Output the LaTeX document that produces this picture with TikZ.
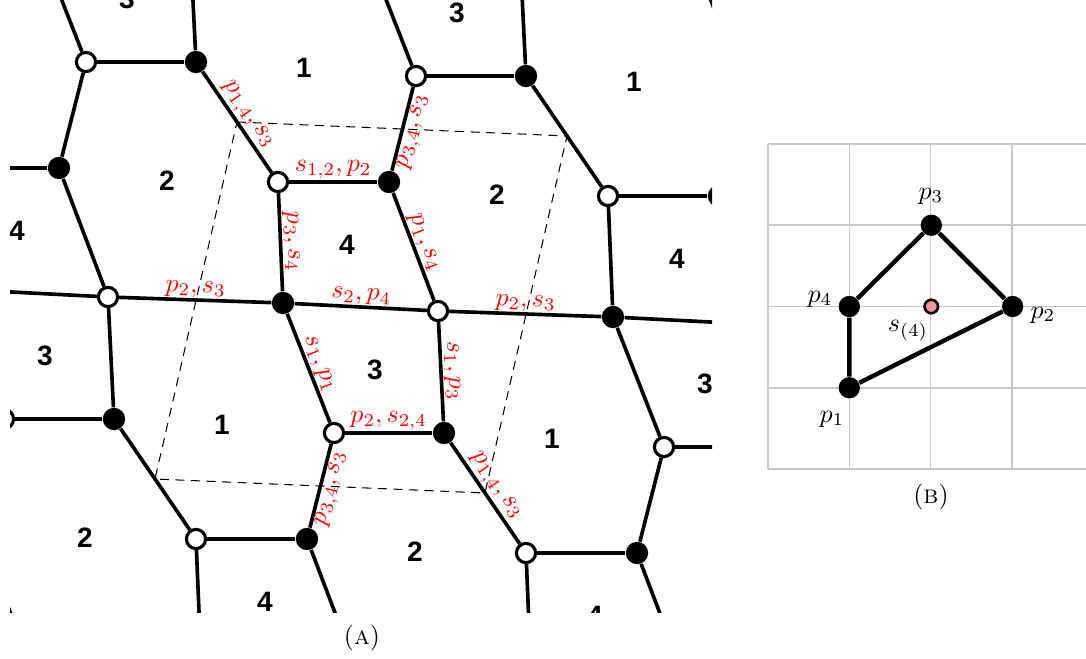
\documentclass[tikz,border=0pt]{standalone}
\usepackage{fontspec}
\newfontfamily\facefont{Liberation Sans}
\usetikzlibrary{calc}
\definecolor{gridgray}{RGB}{200,200,200}
\definecolor{pinkdot}{RGB}{242,150,150}
\tikzset{
  bond/.style={line width=1.4pt},
  wn/.style={circle, draw=black, fill=white, line width=1.2pt, minimum size=7.4pt, inner sep=0pt},
  bn/.style={circle, fill=black, minimum size=8.6pt, inner sep=0pt},
  lab/.style={text=red, inner sep=0.8pt, font=\normalsize},
  facelab/.style={font=\facefont\bfseries\fontsize{10.8}{12}\selectfont},
  fund/.style={line width=0.4pt, dash pattern=on 3.5pt off 2.5pt},
  gridl/.style={draw=gridgray, line width=0.6pt},
  pdot/.style={circle, fill=black, minimum size=8.2pt, inner sep=0pt},
  sdot/.style={circle, draw=black, fill=pinkdot, line width=1pt, minimum size=5.2pt, inner sep=0pt},
  poly/.style={line width=1.7pt},
  plab/.style={font=\normalsize},
  captext/.style={font=\normalsize}
}
\begin{document}
\begin{tikzpicture}[x=0.385pt,y=-0.385pt]
\useasboundingbox (0,0) rectangle (1086,659);
% ---------------- (A) ----------------
\begin{scope}
\clip (10,0) rectangle (712,612);
\foreach \i in {0,...,5}{
  \foreach \j in {0,...,5}{
    \pgfmathsetmacro\ox{330*(\i-2)-82*(\j-2)}
    \pgfmathsetmacro\oy{14*(\i-2)+357*(\j-2)}
    \node[wn] (wa\i\j) at ({278+\ox},{182+\oy}) {};
    \node[bn] (ba\i\j) at ({389+\ox},{182+\oy}) {};
    \node[bn] (bb\i\j) at ({283+\ox},{303+\oy}) {};
    \node[wn] (wb\i\j) at ({438+\ox},{311+\oy}) {};
    \node[wn] (wc\i\j) at ({334+\ox},{433+\oy}) {};
    \node[bn] (bc\i\j) at ({444+\ox},{433+\oy}) {};
    \node[facelab] (fa\i\j) at ({222+\ox},{425+\oy}) {1};
    \node[facelab] (fb\i\j) at ({167+\ox},{181+\oy}) {2};
    \node[facelab] (fc\i\j) at ({375+\ox},{370+\oy}) {3};
    \node[facelab] (fd\i\j) at ({347+\ox},{245+\oy}) {4};
  }
}
\foreach \i in {0,...,4}{
  \foreach \j in {0,...,4}{
    \pgfmathtruncatemacro\ip{\i+1}
    \pgfmathtruncatemacro\jp{\j+1}
    \draw[bond] (wa\i\j) -- (ba\i\j);
    \draw[bond] (wa\i\j) -- (bb\i\j);
    \draw[bond] (ba\i\j) -- (wb\i\j);
    \draw[bond] (bb\i\j) -- (wb\i\j);
    \draw[bond] (wb\i\j) -- (bb\ip\j);
    \draw[bond] (bb\i\j) -- (wc\i\j);
    \draw[bond] (wb\i\j) -- (bc\i\j);
    \draw[bond] (wc\i\j) -- (bc\i\j);
    \draw[bond] (wc\i\j) -- (ba\i\jp);
    \draw[bond] (bc\i\j) -- (wa\ip\jp);
  }
}
% fundamental domain
\coordinate (d1) at ($(bc11)!0.5!(wa22)$);
\coordinate (d2) at ($(bc21)!0.5!(wa32)$);
\coordinate (d3) at ($(bc22)!0.5!(wa33)$);
\coordinate (d4) at ($(bc12)!0.5!(wa23)$);
\draw[fund] (d1) -- (d2) -- (d3) -- (d4) -- cycle;
% edge labels
\path (bc11) -- node[lab, sloped, above] {$p_{1,4}, s_3$} (wa22);
\path (bc22) -- node[lab, sloped, above] {$p_{1,4}, s_3$} (wa33);
\path (wa22) -- node[lab, above] {$s_{1,2}, p_2$} (ba22);
\path (wa22) -- node[lab, sloped, above] {$p_3, s_4$} (bb22);
\path (ba22) -- node[lab, sloped, above] {$p_1, s_4$} (wb22);
\path (bb22) -- node[lab, sloped, above] {$s_2, p_4$} (wb22);
\path (wb12) -- node[lab, sloped, above] {$p_2, s_3$} (bb22);
\path (wb22) -- node[lab, sloped, above] {$p_2, s_3$} (bb32);
\path (bb22) -- node[lab, sloped, above] {$s_1, p_1$} (wc22);
\path (wb22) -- node[lab, sloped, above] {$s_1, p_3$} (bc22);
\path (wc22) -- node[lab, sloped, above] {$p_2, s_{2,4}$} (bc22);
\path (ba22) -- node[lab, sloped, below] {$p_{3,4}, s_3$} (wc21);
\path (ba23) -- node[lab, sloped, below] {$p_{3,4}, s_3$} (wc22);
\end{scope}
\node[captext] (capA) at (362,638) {(\textsc{a})};
% ---------------- (B) ----------------
\begin{scope}
\clip (760,130) rectangle (1086,480);
\foreach \k in {0,...,4}{
  \draw[gridl] ({768+81.3*\k},144) -- ({768+81.3*\k},469);
  \draw[gridl] (768,{144+81.25*\k}) -- (1100,{144+81.25*\k});
}
\end{scope}
\node[pdot] (p3) at (931.3,225.25) {};
\node[pdot] (p4) at (849.3,306.5) {};
\node[pdot] (p2) at (1012.6,306.5) {};
\node[pdot] (p1) at (849.3,387.75) {};
\draw[poly] (p1) -- (p4) -- (p3) -- (p2) -- (p1);
\node[sdot] (s4) at (931.3,306.5) {};
\node[plab] (lp3) at (931,196) {$p_3$};
\node[plab] (lp4) at (820,299) {$p_4$};
\node[plab] (lp2) at (1043,315) {$p_2$};
\node[plab] (lp1) at (832,419) {$p_1$};
\node[plab] (ls4) at (908,331) {$s_{(4)}$};
\node[captext] (capB) at (931,497) {(\textsc{b})};
\end{tikzpicture}
\end{document}
